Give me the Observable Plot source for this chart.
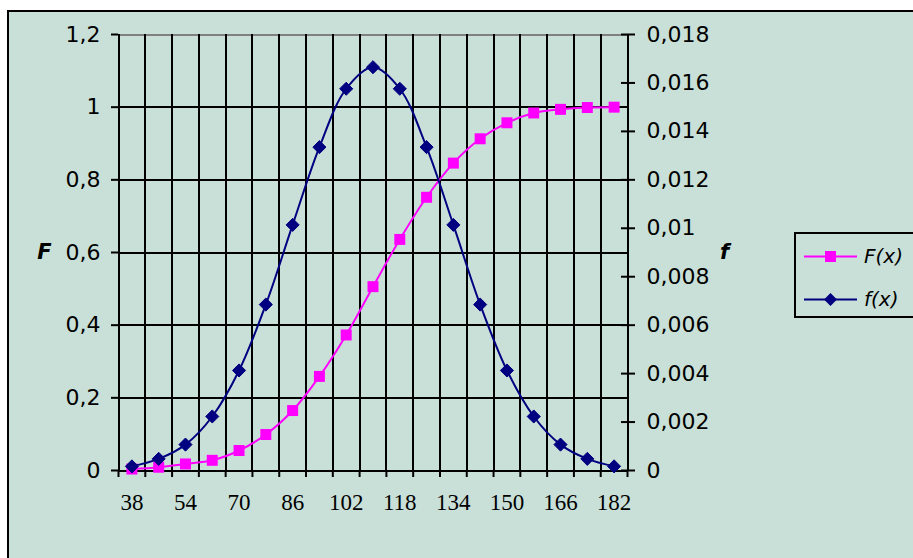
<!DOCTYPE html>
<html><head><meta charset="utf-8">
<script src="https://cdn.jsdelivr.net/npm/d3@7"></script>
<script src="https://cdn.jsdelivr.net/npm/@observablehq/plot@0.6"></script>
<style>
html,body{margin:0;padding:0;background:#fff;width:913px;height:558px;overflow:hidden;}
#wrap{position:relative;width:913px;height:558px;}
#bg{position:absolute;left:7px;top:10px;width:930px;height:570px;background:#C9E0D8;border:2px solid #000;box-sizing:border-box;}
#chart{position:absolute;left:0;top:0;}
#legend{position:absolute;left:794px;top:232px;width:150px;height:86px;border:2px solid #000;box-sizing:border-box;font-family:"DejaVu Sans";font-style:italic;font-size:20px;color:#000;}
.row{position:absolute;left:0;height:24px;display:flex;align-items:center;}
.row svg{margin-left:8px;}
.row span{margin-left:6px;}
</style></head>
<body>
<div id="wrap">
  <div id="bg"></div>
  <div id="chart"></div>
  <div id="legend"></div>
</div>
<script>
// ---- data ----
const xValues = [38,46,54,62,70,78,86,94,102,110,118,126,134,142,150,158,166,174,182];
const Fvalues = [0.004,0.009,0.018,0.028,0.055,0.099,0.165,0.259,0.373,0.506,0.636,0.752,0.846,0.913,0.957,0.984,0.994,0.999,1.0];
const fvalues = [0.00017,0.00048,0.00107,0.00223,0.00413,0.00685,0.01014,0.01335,0.01576,0.01665,0.01576,0.01335,0.01014,0.00685,0.00413,0.00223,0.00107,0.00048,0.00017];
const xTickLabels = [38,54,70,86,102,118,134,150,166,182];
const xBoundaries = [34,42,50,58,66,74,82,90,98,106,114,122,130,138,146,154,162,170,178,186];
const leftTicks = [0,0.2,0.4,0.6,0.8,1,1.2];
const rightTicks = [0,0.002,0.004,0.006,0.008,0.01,0.012,0.014,0.016,0.018];
const seriesNames = ["F(x)","f(x)"];
const colors = {F:"#FF00FF", f:"#000080"};

const leftMax = d3.max(leftTicks), rightMax = d3.max(rightTicks);
const k = leftMax / rightMax;
const rows = xValues.map((x,i)=>({x, F:Fvalues[i], f:fvalues[i]*k}));
const comma = v => String(+v.toFixed(4)).replace(".", ",");
const crisp = {shapeRendering:"crispEdges"};

const chart = Plot.plot({
  width:913, height:558,
  marginLeft:118, marginRight:286, marginTop:34, marginBottom:88,
  style:{background:"transparent", fontFamily:"DejaVu Sans", color:"#000", overflow:"visible"},
  x:{type:"linear", domain:[d3.min(xBoundaries), d3.max(xBoundaries)]},
  y:{domain:[0, leftMax]},
  marks:[
    Plot.ruleY(leftTicks, {stroke:"#000", strokeWidth:2, ...crisp}),
    Plot.ruleY([leftMax], {stroke:"#808080", strokeWidth:2, ...crisp}),
    Plot.ruleX(xBoundaries, {y1:0, y2:leftMax, stroke:"#000", strokeWidth:2, ...crisp}),
    Plot.ruleY([0], {stroke:"#000", strokeWidth:2, ...crisp}),
    Plot.ruleX([d3.min(xBoundaries)], {stroke:"#000", strokeWidth:2, ...crisp}),
    Plot.ruleX([d3.max(xBoundaries)], {stroke:"#000", strokeWidth:2, ...crisp}),
    Plot.axisY({anchor:"left", ticks:leftTicks, tickSize:7, tickPadding:11, tickFormat:comma, fontSize:22, strokeWidth:2, label:null}),
    Plot.axisY({anchor:"right", ticks:rightTicks.map(v=>v*k), tickSize:7, tickPadding:12, tickFormat:(d)=>comma(d/k), fontSize:22, strokeWidth:2, label:null}),
    Plot.axisY({anchor:"right", ticks:rightTicks.map(v=>v*k), tickSize:7, dx:-7, tickFormat:()=>"", strokeWidth:2, label:null}),
    Plot.axisX({ticks:xBoundaries, tickSize:7, tickFormat:()=>"", strokeWidth:2, label:null}),
    Plot.axisX({ticks:xTickLabels, tickSize:0, tickPadding:23, tickFormat:d=>String(d), fontFamily:"Liberation Serif", fontSize:23, label:null}),
    Plot.line(rows, {x:"x", y:"F", stroke:colors.F, strokeWidth:2, curve:"catmull-rom"}),
    Plot.dot(rows, {x:"x", y:"F", symbol:"square", r:6.2, fill:colors.F, stroke:"none"}),
    Plot.line(rows, {x:"x", y:"f", stroke:colors.f, strokeWidth:2, curve:"catmull-rom"}),
    Plot.dot(rows, {x:"x", y:"f", symbol:"diamond2", r:5.9, fill:colors.f, stroke:colors.f, strokeWidth:1}),
    Plot.text(["F"], {frameAnchor:"left", dx:-74, textAnchor:"middle", fontWeight:"bold", fontStyle:"italic", fontSize:21, fill:"#000"}),
    Plot.text(["f"], {frameAnchor:"right", dx:97, textAnchor:"middle", fontWeight:"bold", fontStyle:"italic", fontSize:21, fill:"#000"})
  ]
});
document.getElementById("chart").appendChild(chart);

// ---- legend ----
const legend = document.getElementById("legend");
const markerSvg = (key) => key === "F"
  ? `<rect x="21" y="6" width="11" height="11" fill="${colors.F}"/>`
  : `<path d="M26.5,5 L33,11.5 L26.5,18 L20,11.5 Z" fill="${colors.f}"/>`;
[["F",10],["f",53]].forEach(([key,top],i)=>{
  const row = document.createElement("div");
  row.className = "row";
  row.style.top = top + "px";
  row.innerHTML = `<svg width="54" height="23"><line x1="0" x2="53" y1="11.5" y2="11.5" stroke="${colors[key]}" stroke-width="2"/>${markerSvg(key)}</svg><span>${seriesNames[i]}</span>`;
  legend.appendChild(row);
});
</script>
</body></html>
